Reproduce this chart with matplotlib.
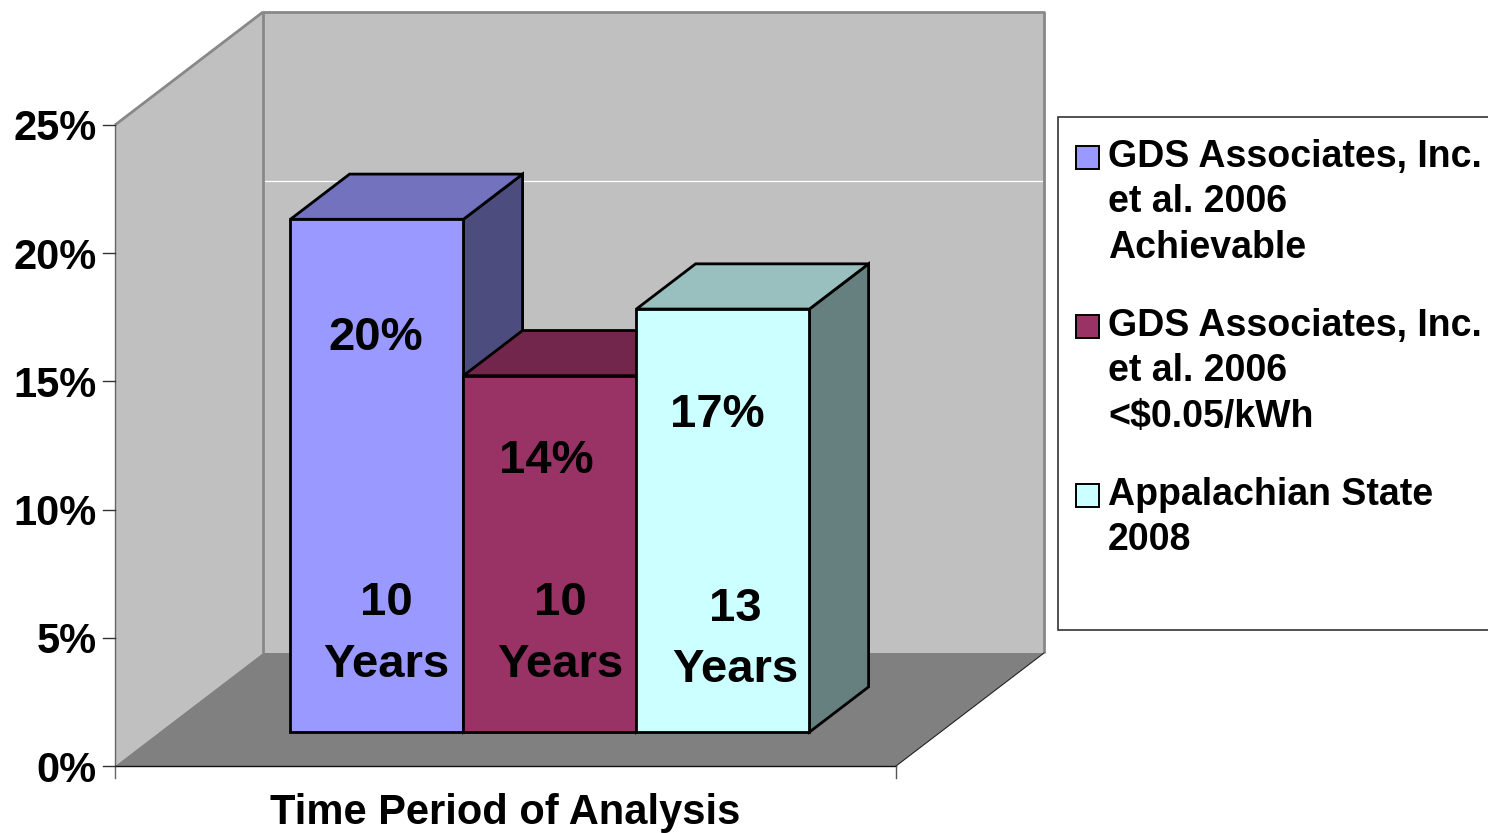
import matplotlib.pyplot as plt
from matplotlib.patches import Polygon, Rectangle

plt.rcParams['font.family'] = ['Liberation Sans', 'DejaVu Sans']
plt.rcParams['font.weight'] = 'bold'

# data
series = ['GDS Associates, Inc.\net al. 2006\nAchievable',
          'GDS Associates, Inc.\net al. 2006\n<$0.05/kWh',
          'Appalachian State\n2008']
values = [20.0, 13.9, 16.5]
years = [10, 10, 13]
category = 'Time Period of Analysis'
yticks = [0, 5, 10, 15, 20, 25]
front_cols = ['#9999FF', '#993366', '#CCFFFF']

# label placement (value units on the bar front, pixel offsets in x)
pct_y = [15.57, 10.77, 12.56]
pct_dx = [-1, -4, -6]
num_y = [5.23, 5.23, 5.0]
word_y = [2.81, 2.81, 2.62]
yrs_dx = [9, 10, 12]

# projection set-up (pixels)
W, H = 1488, 833
X0, SX = 115, 781.0          # front floor left, px per category unit
Y0, SY = 766, 641 / 25.0     # 0% line, px per percent
DXp, DYp = 148, 113          # depth offset of back wall
DX, DY = DXp / SX, DYp / SY
YMAX = 25
D0, D1 = 0.3, 0.7            # bar depth range
BW = 173 / SX
GAP = (1 - 3 * BW) / 2


def P(x, y, d=0.0):
    return (x + d * DX, y + d * DY)


def px(x, y):
    return ((x - X0) / SX, (Y0 - y) / SY)


def shade(c, f):
    r, g, b = [int(c[i:i + 2], 16) for i in (1, 3, 5)]
    return '#%02x%02x%02x' % (int(r * f), int(g * f), int(b * f))


fig = plt.figure(figsize=(W / 100, H / 100), dpi=100)
ax = fig.add_axes([0, 0, 1, 1])
ax.set_xlim(-X0 / SX, (W - X0) / SX)
ax.set_ylim(-(H - Y0) / SY, Y0 / SY)
ax.axis('off')

# walls and floor
ax.add_patch(Polygon([P(0, 0, 0), P(0, 0, 1), P(0, YMAX, 1), P(0, YMAX, 0)],
                     fc='#C0C0C0', ec='none', zorder=1))
ax.add_patch(Polygon([P(0, 0, 1), P(1, 0, 1), P(1, YMAX, 1), P(0, YMAX, 1)],
                     fc='#C0C0C0', ec='none', zorder=1))
ax.add_patch(Polygon([P(0, 0, 0), P(1, 0, 0), P(1, 0, 1), P(0, 0, 1)],
                     fc='#808080', ec='none', zorder=1))
seam_y = 18.4
ax.plot(*zip(P(0, seam_y, 1), P(1, seam_y, 1)), color='white', lw=0.9, zorder=2)
edges = [[P(0, 0, 1), P(0, YMAX, 1), P(1, YMAX, 1), P(1, 0, 1)],
         [P(0, YMAX, 0), P(0, YMAX, 1)]]
for e in edges:
    ax.plot(*zip(*e), color='#888888', lw=2.0, zorder=2, solid_capstyle='butt')
ax.plot(*zip(P(1, 0, 0), P(1, 0, 1)), color='#222222', lw=0.8, zorder=2)

# axes lines and ticks
tick = 12 / SY
ax.plot([0, 0], [-tick, YMAX], color='#666666', lw=1.0, zorder=5)
ax.plot([0, 1], [0, 0], color='#111111', lw=1.0, zorder=5)
ax.plot([1, 1], [-tick, 0], color='#555555', lw=1.0, zorder=5)
for t in yticks:
    ax.plot([-12 / SX, 0], [t, t], color='#333333', lw=1.0, zorder=5)
    ax.text(-18 / SX, t, f'{t}%', ha='right', va='center_baseline',
            fontsize=30, zorder=6)

# bars
for i, v in enumerate(values):
    x0 = GAP + i * BW
    x1 = x0 + BW
    c = front_cols[i]
    z = 10 + i * 3
    ax.add_patch(Polygon([P(x1, 0, D0), P(x1, 0, D1), P(x1, v, D1), P(x1, v, D0)],
                         fc=shade(c, 0.5), ec='black', lw=2.0, zorder=z, joinstyle='miter'))
    ax.add_patch(Polygon([P(x0, v, D0), P(x1, v, D0), P(x1, v, D1), P(x0, v, D1)],
                         fc=shade(c, 0.75), ec='black', lw=2.0, zorder=z + 1, joinstyle='miter'))
    ax.add_patch(Polygon([P(x0, 0, D0), P(x1, 0, D0), P(x1, v, D0), P(x0, v, D0)],
                         fc=c, ec='black', lw=2.0, zorder=z + 2, joinstyle='miter'))
    xc = (x0 + x1) / 2 + D0 * DX
    ax.text(xc + pct_dx[i] / SX, pct_y[i] + D0 * DY, f'{int(v + 0.5)}%',
            ha='center', va='center_baseline', fontsize=34, zorder=30)
    ax.text(xc + yrs_dx[i] / SX, num_y[i] + D0 * DY, str(years[i]),
            ha='center', va='center_baseline', fontsize=34, zorder=30)
    ax.text(xc + yrs_dx[i] / SX, word_y[i] + D0 * DY, 'Years',
            ha='center', va='center_baseline', fontsize=34, zorder=30)

# category title
ax.text(0.5, -1.66, category, ha='center', va='center_baseline', fontsize=30)

# legend
lx, ly = px(1058, 630)
rx, ry = px(1500, 117)
ax.add_patch(Rectangle((lx, ly), rx - lx, ry - ly, fc='white', ec='#333333',
                       lw=1.2, zorder=20))
for k, name in enumerate(series):
    base = 167 + k * 169
    sx, sy = px(1076, base + 2)
    ax.add_patch(Rectangle((sx, sy), 23 / SX, 23 / SY, fc=front_cols[k],
                           ec='black', lw=1.4, zorder=21))
    for j, line in enumerate(name.split('\n')):
        tx, ty = px(1108, base + j * 45.5)
        ax.text(tx, ty, line, ha='left', va='baseline', fontsize=27, zorder=22)

fig.savefig('out.png', dpi=100)
